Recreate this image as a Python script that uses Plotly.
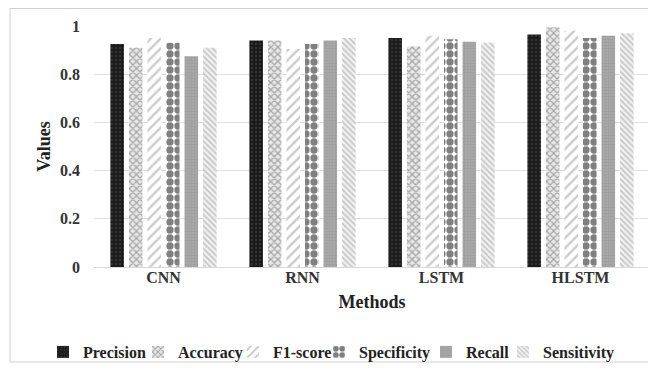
import plotly.graph_objects as go

methods = ["CNN", "RNN", "LSTM", "HLSTM"]
metrics = ["Precision", "Accuracy", "F1-score", "Specificity", "Recall", "Sensitivity"]
precision = [0.925, 0.94, 0.95, 0.965]
accuracy = [0.91, 0.94, 0.915, 0.995]
f1_score = [0.95, 0.905, 0.96, 0.98]
specificity = [0.93, 0.925, 0.945, 0.95]
recall = [0.875, 0.94, 0.935, 0.96]
sensitivity = [0.91, 0.95, 0.93, 0.97]
y_ticks = [0, 0.2, 0.4, 0.6, 0.8, 1]
y_tick_labels = ["0", "0.2", "0.4", "0.6", "0.8", "1"]

series = [precision, accuracy, f1_score, specificity, recall, sensitivity]
styles = [
    dict(color="#1a1a1a", pattern=dict(shape=".", fgcolor="#4a4a4a", bgcolor="#1a1a1a", size=4, solidity=0.3)),
    dict(color="white", pattern=dict(shape="x", fgcolor="#666666", bgcolor="#e8e8e8", size=5, solidity=0.45)),
    dict(color="white", pattern=dict(shape="/", fgcolor="#999999", bgcolor="white", size=7, solidity=0.35)),
    dict(color="white", pattern=dict(shape=".", fgcolor="#000000", bgcolor="white", size=8, solidity=0.65)),
    dict(color="#a0a0a0", pattern=dict(shape="+", fgcolor="#8c8c8c", bgcolor="#a8a8a8", size=3, solidity=0.3)),
    dict(color="white", pattern=dict(shape="\\", fgcolor="#999999", bgcolor="#f2f2f2", size=4, solidity=0.45)),
]

# The page adds an 8px body margin; the figure is laid out in its own coordinates.
W, H = 648, 364
legend_ids = ["legend", "legend2", "legend3", "legend4", "legend5", "legend6"]
legend_text_x = [75, 170, 265, 351, 458, 535]

fig = go.Figure()
for name, vals, st, lid in zip(metrics, series, styles, legend_ids):
    fig.add_trace(go.Bar(
        x=methods, y=vals, name=name, legend=lid,
        marker=dict(color=st["color"], pattern=st["pattern"], line=dict(width=0)),
    ))

font_family = "Liberation Serif, Times New Roman, serif"
legend_font = dict(family=font_family, size=16, color="#222222", weight="bold")
legend_layouts = {}
for lid, tx in zip(legend_ids, legend_text_x):
    legend_layouts[lid] = dict(orientation="h", xref="container", x=(tx - 40) / W, xanchor="left",
                               yref="container", y=1 - 344 / H, yanchor="middle",
                               bgcolor="rgba(0,0,0,0)", font=legend_font, itemwidth=30)

fig.update_layout(
    width=W, height=H,
    paper_bgcolor="white", plot_bgcolor="white",
    barmode="group", bargap=0.2, bargroupgap=0.27,
    margin=dict(l=86, r=6, t=18, b=105),
    font=dict(family=font_family, color="#333333", size=12),
    showlegend=True,
    xaxis=dict(showgrid=False, showline=True, linecolor="#d9d9d9", linewidth=1,
               automargin=False, ticklabelstandoff=-4,
               tickfont=dict(family=font_family, size=16, color="#333333", weight="bold"),
               title=dict(text="<b>Methods</b>", font=dict(family=font_family, size=18, color="#222222"), standoff=10)),
    yaxis=dict(range=[0, 1.0], tickvals=y_ticks, ticktext=y_tick_labels,
               showgrid=True, gridcolor="#e0e0e0", zeroline=False,
               automargin=False, ticklabelstandoff=13,
               tickfont=dict(family=font_family, size=16, color="#333333", weight="bold"),
               title=dict(text="<b>Values</b>", font=dict(family=font_family, size=18, color="#222222"), standoff=4)),
    shapes=[dict(type="rect", xref="paper", yref="paper",
                 x0=(2 - 86) / 556, x1=(646 - 86) / 556, y0=(259 - 354) / 241, y1=(259 - 0.5) / 241,
                 line=dict(color="#d0d0d0", width=1), fillcolor="rgba(0,0,0,0)", layer="below")],
    **legend_layouts,
)

fig.write_html("out.html")
